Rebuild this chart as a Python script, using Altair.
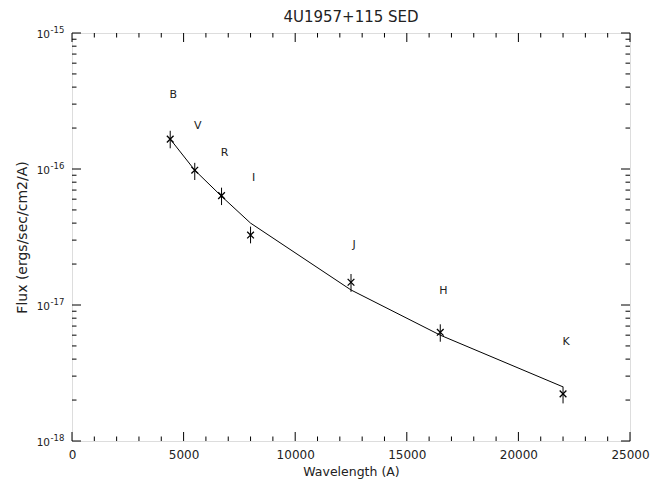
import altair as alt
import pandas as pd

# ---- data ----
bands = ["B", "V", "R", "I", "J", "H", "K"]
wave = [4400, 5500, 6700, 8000, 12500, 16500, 22000]
flux = [1.66e-16, 9.8e-17, 6.37e-17, 3.27e-17, 1.47e-17, 6.3e-18, 2.22e-18]
flux_lo = [1.42e-16, 8.3e-17, 5.43e-17, 2.84e-17, 1.25e-17, 5.37e-18, 1.89e-18]
flux_hi = [1.91e-16, 1.11e-16, 7.29e-17, 3.77e-17, 1.69e-17, 7.21e-18, 2.51e-18]
model = [1.66e-16, 9.8e-17, 6.3e-17, 4.0e-17, 1.29e-17, 6.0e-18, 2.5e-18]
label_flux = [3.5e-16, 2.07e-16, 1.31e-16, 8.6e-17, 2.76e-17, 1.27e-17, 5.3e-18]

x_major = [0, 5000, 10000, 15000, 20000, 25000]
x_minor = [v for v in range(0, 25001, 1000) if v % 5000]
y_major = [1e-18, 1e-17, 1e-16, 1e-15]
y_minor = [m * d for d in y_major[:-1] for m in range(2, 10)]
y_label_base = ["10", "10", "10", "10"]
y_label_exp = ["-18", "-17", "-16", "-15"]

W, H = 558, 408
FONT = "DejaVu Sans"
TXT = "#222222"
MAJ, MIN = 9, 4.5

df = pd.DataFrame({"band": bands, "wave": wave, "flux": flux, "lo": flux_lo,
                   "hi": flux_hi, "model": model, "lab": label_flux})
ydf = pd.DataFrame({"v": y_major, "base": y_label_base, "exp": y_label_exp})

xs = alt.Scale(domain=[0, 25000], nice=False, zero=False)
ys = alt.Scale(type="log", domain=[1e-18, 1e-15], nice=False)

xaxis = alt.Axis(values=x_major, tickSize=0, domain=False, grid=False,
                 labelPadding=8, title="Wavelength (A)", titlePadding=5,
                 labelFont=FONT, titleFont=FONT, labelFontSize=12,
                 titleFontSize=12.5, labelColor=TXT, titleColor=TXT,
                 titleFontWeight="normal", format="d", labelFlush=False)
yaxis = alt.Axis(values=y_major, tickSize=0, domain=False, grid=False,
                 labels=False, title="Flux (ergs/sec/cm2/A)", titlePadding=42,
                 titleFont=FONT, titleFontSize=14, titleColor=TXT,
                 titleFontWeight="normal")


def X(field):
    return alt.X(field, scale=xs, axis=xaxis)


def Y(field):
    return alt.Y(field, scale=ys, axis=yaxis)


base = alt.Chart(df)

line = base.mark_line(color="black", strokeWidth=1).encode(x=X("wave:Q"), y=Y("model:Q"))

errs = base.mark_rule(color="black", strokeWidth=1).encode(
    x=X("wave:Q"), y=Y("lo:Q"), y2="hi:Q")

pts = base.mark_point(shape="M-1,-1L1,1M1,-1L-1,1", size=45, filled=False,
                      color="black", strokeWidth=1.3, opacity=1).encode(
    x=X("wave:Q"), y=Y("flux:Q"))

labs = base.mark_text(font=FONT, fontSize=11, color=TXT, dx=3, baseline="middle").encode(
    x=X("wave:Q"), y=Y("lab:Q"), text="band:N")

ylab_base = alt.Chart(ydf).mark_text(font=FONT, fontSize=10.5, color=TXT, align="right",
                                     baseline="middle", dy=2).encode(
    y=Y("v:Q"), x=alt.value(-22), text="base:N")
ylab_exp = alt.Chart(ydf).mark_text(font=FONT, fontSize=8.5, color=TXT, align="left",
                                    baseline="middle", dy=-3.5).encode(
    y=Y("v:Q"), x=alt.value(-21.5), text="exp:N")


def xticks(vals, length):
    d = pd.DataFrame({"v": vals})
    bot = alt.Chart(d).mark_rule(color="black", strokeWidth=1).encode(
        x=X("v:Q"), y=alt.value(H), y2=alt.value(H - length))
    top = alt.Chart(d).mark_rule(color="black", strokeWidth=1).encode(
        x=X("v:Q"), y=alt.value(0), y2=alt.value(length))
    return [bot, top]


def yticks(vals, length):
    d = pd.DataFrame({"v": vals})
    left = alt.Chart(d).mark_rule(color="black", strokeWidth=1).encode(
        y=Y("v:Q"), x=alt.value(0), x2=alt.value(length))
    right = alt.Chart(d).mark_rule(color="black", strokeWidth=1).encode(
        y=Y("v:Q"), x=alt.value(W), x2=alt.value(W - length))
    return [left, right]


layers = [line, errs, pts, labs, ylab_base, ylab_exp]
layers += xticks(x_major, MAJ) + xticks(x_minor, MIN)
layers += yticks(y_major, MAJ) + yticks(y_minor, MIN)

chart = alt.layer(*layers).properties(
    width=W, height=H,
    title=alt.TitleParams("4U1957+115 SED", font=FONT, fontSize=15,
                          fontWeight="normal", color=TXT, offset=1),
    autosize=alt.AutoSizeParams(type="none"),
    padding={"left": 64, "top": 25, "right": 24, "bottom": 41},
).configure_view(stroke="black", strokeWidth=1).configure(background="white")

chart.save("out.html", embed_options={"renderer": "svg", "actions": False})
